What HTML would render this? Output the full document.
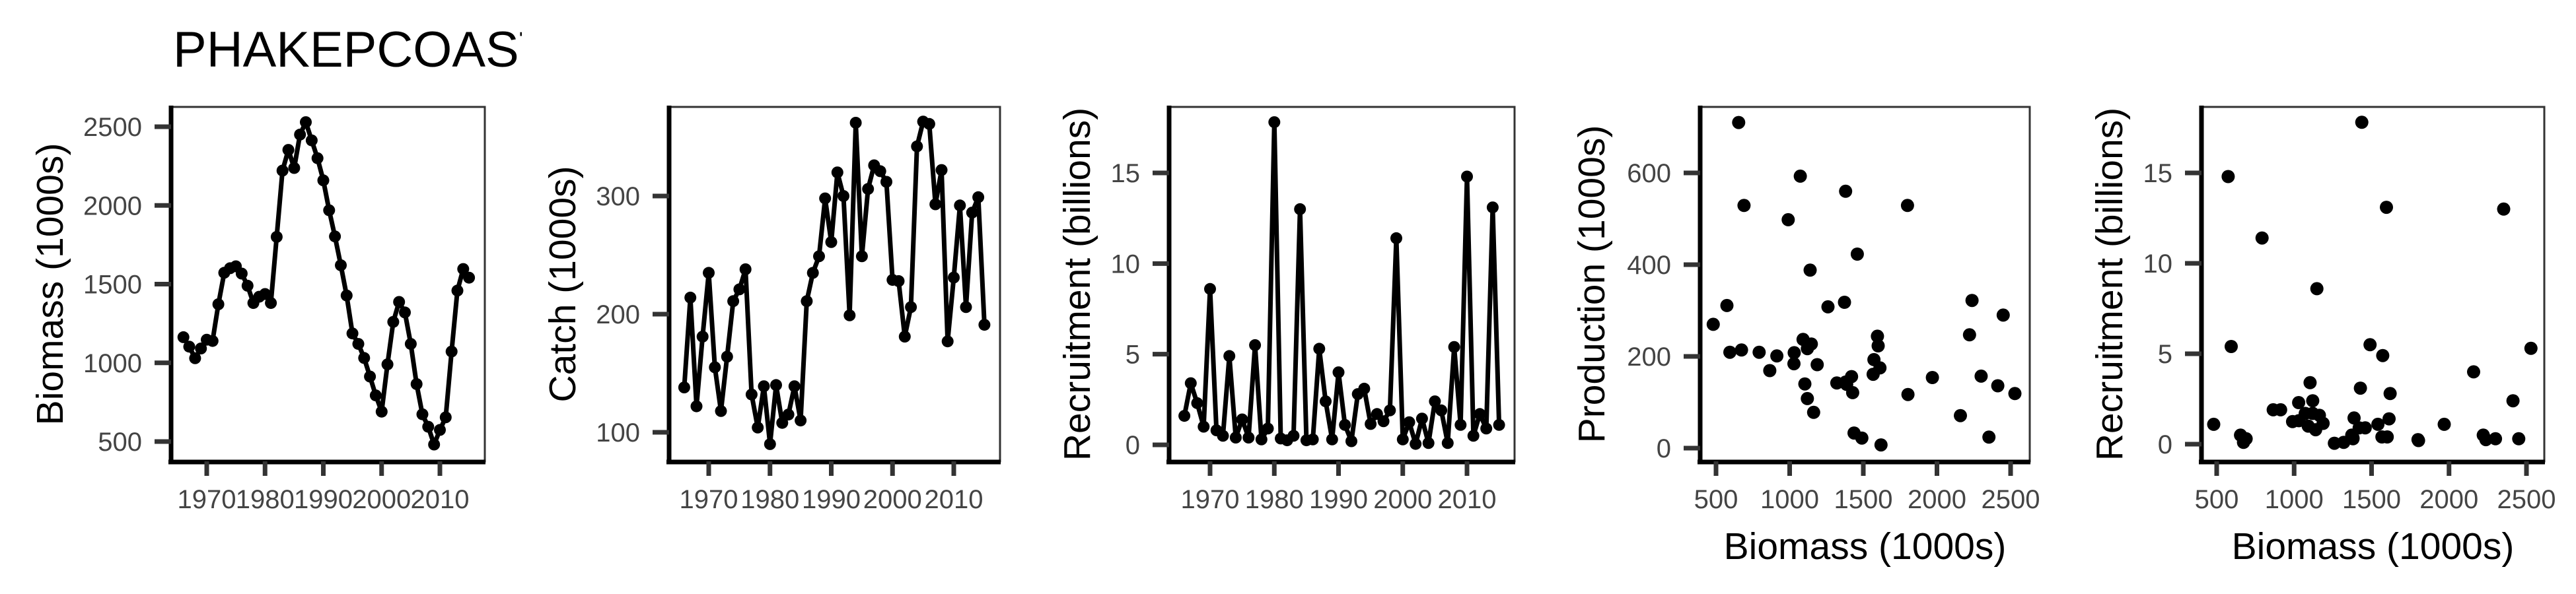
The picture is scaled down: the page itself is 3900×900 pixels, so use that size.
<!DOCTYPE html>
<html><head><meta charset="utf-8"><style>
html,body{margin:0;padding:0;background:#fff;}
svg{display:block;}
text{font-family:"Liberation Sans",sans-serif;}
.tick{font-size:40px;fill:#444;}
.ttl{font-size:57px;fill:#000;}
</style></head>
<body>
<svg id="chart" width="3900" height="900" viewBox="0 0 3900 900" xmlns="http://www.w3.org/2000/svg">
<defs><clipPath id="titleclip"><rect x="0" y="0" width="790" height="200"/></clipPath></defs>
<text x="262" y="101" font-size="76" clip-path="url(#titleclip)">PHAKEPCOAST</text>
</svg>
<script>
const years = [1966,1967,1968,1969,1970,1971,1972,1973,1974,1975,1976,1977,1978,1979,1980,1981,1982,1983,1984,1985,1986,1987,1988,1989,1990,1991,1992,1993,1994,1995,1996,1997,1998,1999,2000,2001,2002,2003,2004,2005,2006,2007,2008,2009,2010,2011,2012,2013,2014,2015];
const biomass = [1163,1103,1029,1091,1147,1139,1372,1572,1601,1613,1567,1490,1380,1420,1437,1380,1800,2221,2353,2238,2450,2529,2413,2300,2159,1969,1803,1620,1428,1187,1120,1031,913,793,690,990,1260,1387,1320,1120,865,673,594,481,574,654,1072,1459,1596,1541];
const catchVals = [138,214,122,181,235,155,118,164,211,221,238,132,104,139,90,140,108,115,139,110,211,235,249,298,261,320,300,199,362,249,306,326,321,312,229,228,181,206,342,363,361,293,322,177,231,292,206,286,299,191];
const recruitment = [1.6,3.4,2.3,1.0,8.6,0.8,0.5,4.9,0.4,1.4,0.4,5.5,0.3,0.9,17.8,0.35,0.25,0.5,13.0,0.25,0.3,5.3,2.4,0.3,4.0,1.1,0.2,2.8,3.1,1.15,1.7,1.3,1.9,11.4,0.3,1.25,0.05,1.45,0.1,2.4,1.9,0.1,5.4,1.1,14.8,0.5,1.7,0.9,13.1,1.1];
const production = [78,140,184,237,227,388,318,193,223,175,161,22,144,156,33,560,529,247,24,322,290,119,136,157,71,154,117,7,121,182,217,208,201,209,529,498,308,139,142,108,169,214,209,270,311,710,593,423,244];
const yearTicks = [1970,1980,1990,2000,2010];
const biomassTicks = [500,1000,1500,2000,2500];
const catchTicks = [100,200,300];
const recTicks = [0,5,10,15];
const prodTicks = [0,200,400,600];

const NS = "http://www.w3.org/2000/svg";
const svg = document.getElementById('chart');
function mk(tag, attrs, parent){
  const e = document.createElementNS(NS, tag);
  for (const k in attrs) e.setAttribute(k, attrs[k]);
  (parent||svg).appendChild(e);
  return e;
}
function lin(d0,d1,r0,r1){ return v => r0 + (v-d0)/(d1-d0)*(r1-r0); }

const TOP=162, BOT=699;
function panel(cfg){
  const g = mk('g', {});
  
  
  const x = cfg.x, y = cfg.y;
  const border = mk('rect', {x:cfg.x0, y:TOP, width:cfg.x1-cfg.x0, height:BOT-TOP, fill:'none', stroke:'#333', 'stroke-width':3}, g);
  
  
  const ya = mk('line', {x1:cfg.x0, y1:TOP-2, x2:cfg.x0, y2:BOT+4, stroke:'#000', 'stroke-width':7}, g);
  
  
  const xa = mk('line', {x1:cfg.x0-4, y1:BOT+1, x2:cfg.x1+1, y2:BOT+1, stroke:'#000', 'stroke-width':7}, g);
  
  
  cfg.yTicks.forEach(t=>{
    const py = y(t);
    const tl = mk('line', {x1:cfg.x0-25, y1:py, x2:cfg.x0, y2:py, stroke:'#333', 'stroke-width':7}, g);
    
    
    const tx = mk('text', {x:cfg.x0-44, y:py+14, 'text-anchor':'end', class:'tick'}, g);
    
    
    tx.textContent = t;
  });
  cfg.xTicks.forEach(t=>{
    const px = x(t);
    const tl = mk('line', {x1:px, y1:BOT, x2:px, y2:BOT+22, stroke:'#333', 'stroke-width':7}, g);
    
    
    const tx = mk('text', {x:px, y:770, 'text-anchor':'middle', class:'tick'}, g);
    
    
    tx.textContent = t;
  });
  const yt = mk('text', {x:0, y:0, 'text-anchor':'middle', class:'ttl', transform:`translate(${cfg.ylabX+20},${(TOP+BOT)/2}) rotate(-90)`}, g);
  
  
  yt.textContent = cfg.ylab;
  if (cfg.xlab){
    const xt = mk('text', {x:(cfg.x0+cfg.x1)/2, y:847, 'text-anchor':'middle', class:'ttl'}, g);
    
    
    xt.textContent = cfg.xlab;
  }
  if (cfg.line){
    const d = cfg.xs.map((v,i)=>(i?'L':'M')+x(v).toFixed(1)+','+y(cfg.ys[i]).toFixed(1)).join('');
    const p = mk('path', {d:d, fill:'none', stroke:'#000', 'stroke-width':7, 'stroke-linejoin':'round'}, g);
    
    
  }
  const n = Math.min(cfg.xs.length, cfg.ys.length);
  for (let i=0;i<n;i++){
    const c = mk('circle', {cx:x(cfg.xs[i]).toFixed(1), cy:y(cfg.ys[i]).toFixed(1), r:cfg.line?9:10, fill:'#000'}, g);
    
    
  }
}

panel({name:'biomass-panel', x0:259, x1:734, x:lin(1970,2010,313,666), y:lin(500,2500,669,192),
  xTicks:yearTicks, yTicks:biomassTicks, xs:years, ys:biomass, line:true, ylab:'Biomass (1000s)', ylabX:75});
panel({name:'catch-panel', x0:1013, x1:1514, x:lin(1970,2010,1073,1444), y:lin(100,300,655,297),
  xTicks:yearTicks, yTicks:catchTicks, xs:years, ys:catchVals, line:true, ylab:'Catch (1000s)', ylabX:851});
panel({name:'recruitment-panel', x0:1770, x1:2293, x:lin(1970,2010,1832,2221), y:lin(0,15,674,262),
  xTicks:yearTicks, yTicks:recTicks, xs:years, ys:recruitment, line:true, ylab:'Recruitment (billions)', ylabX:1630});
panel({name:'production-panel', x0:2574, x1:3073, x:lin(500,2500,2598,3044), y:lin(0,600,679,262),
  xTicks:biomassTicks, yTicks:prodTicks, xs:biomass, ys:production, line:false, ylab:'Production (1000s)', ylabX:2409, xlab:'Biomass (1000s)'});
panel({name:'recruitment-biomass-panel', x0:3333, x1:3852, x:lin(500,2500,3356,3825), y:lin(0,15,673,262),
  xTicks:biomassTicks, yTicks:recTicks, xs:biomass, ys:recruitment, line:false, ylab:'Recruitment (billions)', ylabX:3193, xlab:'Biomass (1000s)'});
</script>
</body></html>
